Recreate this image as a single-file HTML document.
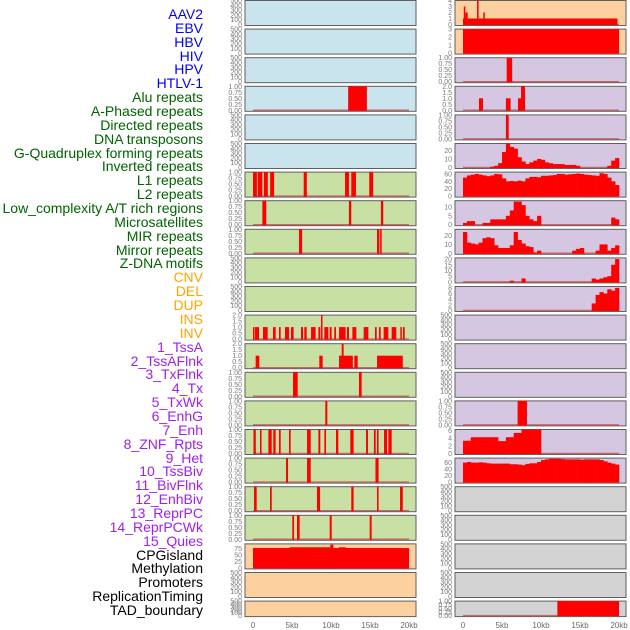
<!DOCTYPE html>
<html><head><meta charset="utf-8">
<style>
html,body{margin:0;padding:0;background:#fff;}
#wrap{position:relative;width:630px;height:630px;overflow:hidden;}
.lbl{position:absolute;right:427px;font-family:"Liberation Sans",sans-serif;font-size:14px;line-height:14px;white-space:nowrap;}
svg text{font-family:"Liberation Sans",sans-serif;}
</style></head>
<body>
<div id="wrap">
<div id="labels"></div>
<svg id="chart" width="630" height="630"></svg>
</div>
<script>
// ---- labels ----
const labelNames = ["AAV2","EBV","HBV","HIV","HPV","HTLV-1","Alu repeats","A-Phased repeats","Directed repeats","DNA transposons","G-Quadruplex forming repeats","Inverted repeats","L1 repeats","L2 repeats","Low_complexity A/T rich regions","Microsatellites","MIR repeats","Mirror repeats","Z-DNA motifs","CNV","DEL","DUP","INS","INV","1_TssA","2_TssAFlnk","3_TxFlnk","4_Tx","5_TxWk","6_EnhG","7_Enh","8_ZNF_Rpts","9_Het","10_TssBiv","11_BivFlnk","12_EnhBiv","13_ReprPC","14_ReprPCWk","15_Quies","CPGisland","Methylation","Promoters","ReplicationTiming","TAD_boundary"];
const labelGroups = [6,13,5,15,5];
const groupColors = ["#0000ff","#006400","#ffa500","#a020f0","#000000"];

// ---- interval data [startKb, endKb, value] ----
const hivSegs = [[12.2,14.6,1]];
const aluSegs = [[0,0.5,1],[0.6,1.2,1],[1.4,1.9,1],[2.2,2.7,1],[6.5,6.9,1],[11.8,12.3,1],[12.6,13.2,1],[14.9,15.4,1]];
const aphasedSegs = [[1.2,1.7,1],[12.3,12.6,1],[16.4,16.7,1]];
const directedSegs = [[5.9,6.3,1],[15.9,16.2,1],[16.3,16.5,1]];
const invertedSegs = [[0,0.13,1],[0.26,0.77,1],[1.28,1.88,1],[2.56,2.91,1],[3.33,3.55,1],[4.1,4.62,1],[4.87,5.21,1],[6.15,6.41,1],[6.58,6.88,1],[7.44,8.03,1],[8.38,8.63,1],[8.72,8.89,2],[9.15,9.66,1],[9.83,10.08,1],[10.42,10.64,1],[11.03,11.88,1],[12.05,12.31,1],[12.74,13.25,1],[14.19,14.79,1],[15.64,15.86,1],[16.15,16.37,1],[16.75,17.35,1],[17.78,18.37,1],[18.89,19.06,1],[19.23,19.45,1]];
const l1Segs = [[0.34,0.81,1],[8.5,8.93,1],[11.03,12.8,1],[11.37,11.62,2],[12.99,13.42,1],[15.9,19.2,1]];
const lowSegs = [[5.13,5.73,1],[13.59,13.93,1]];
const microSegs = [[9.27,9.53,1]];
const mirSegs = [[0.06,0.36,1],[0.9,1.1,1],[1.97,2.4,1],[2.6,2.9,1],[3.33,3.55,1],[4.62,4.83,1],[6.93,7.4,1],[8.38,8.63,1],[9.15,9.36,1],[10.64,10.94,1],[12.47,12.9,1],[14.49,14.74,1],[15.5,15.73,1],[15.9,16.1,1],[16.8,17.18,1],[17.35,17.78,1]];
const mirrorSegs = [[4.23,4.49,1],[6.93,7.4,1],[15.7,16.1,1]];
const zdnaSegs = [[0.13,0.47,1],[2.18,2.4,1],[8.2,8.6,1],[12.6,12.9,1],[15.9,16.1,1],[18.85,19.2,1]];
const cnvSegs = [[5.04,5.26,1],[5.64,5.98,1],[9.83,10.09,1],[14.96,15.21,1]];
const delSegs = [[0,20,77],[4.7,9.9,80],[9.9,10.3,90],[11,11.9,80]];
const insSegs = [[0,19.8,1],[0.1,0.3,3],[0.3,0.6,2],[1.8,2.0,4],[2.6,2.8,2]];
const invSegs = [[0,20,3]];
const tssaSegs = [[5.6,6.3,1]];
const tssaflnkSegs = [[2.05,2.56,1],[5.5,6.1,1],[7.05,7.48,1],[7.44,7.95,2]];
const txflnkSegs = [[5.5,5.86,1]];
const enhgSegs = [[7.0,8.2,1]];
const tadSegs = [[12.1,20,1]];

// ---- binned data (0.5kb bins, 40 bins) ----
const gquadBins = [0,0,0,0,0,0,0,1,2,5,18,28,24,22,12,7,4,6,8,10,9,6,5,4,4,4,3,3,3,2,0,0,0,0,0,0,0,2,8,11];
const txBins = [50,56,58,60,58,56,54,56,60,59,48,40,41,40,42,40,48,52,52,51,55,55,56,57,60,60,58,59,60,61,60,58,57,56,55,62,60,50,40,30];
const txwkBins = [1,2,2,0,0,1,1,3,3,3,3,5,8,13,13,11,5,3,2,5,0,0,0,0,0,0,0,0,0,0,0,0,0,0,0,0,0,0,4,3];
const enhBins = [24,12,11,10,12,17,18,17,9,6,6,6,9,24,15,11,8,7,1,3,0,0,0,0,0,0,0,0,3,5,6,0,0,0,3,10,10,3,6,9];
const znfBins = [0,0,0,0,0,0,0,0,0,0,0,0,1,0,0,3,0,0,0,0,0,0,0,0,0,0,0,0,0,0,0,0,0,3,2,3,4,5,15,20];
const hetBins = [0,0,0,0,0,0,0,0,0,0,0,0,0,0,0,0,0,0,0,0,0,0,0,0,0,0,0,0,0,0,0,0,0,2.5,5.5,6.5,6,7.5,7,8];
const enhbivBins = [3.3,3.3,4.2,4.2,4.2,4.2,4.2,4.2,4.2,3.2,3.2,4.2,4.2,5.3,5.3,6.2,6.2,6.2,6.2,6.2,0,0,0,0,0,0,0,0,0,0,0,0,0,0,0,0,0,0,0,0];
const quiesBins = [60,62,60,60,61,60,58,57,57,57,57,57,55,55,54,52,56,58,58,62,68,70,72,72,72,71,70,70,70,70,69,70,70,70,70,68,64,60,57,54];

// ---- tick label arrays ----
const ticksEmpty = ["0","100","200","300","400","500"];
const ticksUnit = ["0.00","0.25","0.50","0.75","1.00"];
const ticksTwo = ["0.0","0.5","1.0","1.5","2.0"];
const ticksDel = ["0","25","50","75"];
const ticksIns = ["0","1","2","3","4"];
const ticksInv = ["0","1","2","3"];
const ticks10 = ["0","10","20"];
const ticks60 = ["0","20","40","60"];
const ticks5 = ["0","5","10"];
const ticks20by5 = ["0","5","10","15","20"];
const ticks8 = ["0","2","4","6","8"];
const ticks6 = ["0","2","4","6"];
const xTickLabels = ["0","5kb","10kb","15kb","20kb"];
const xTickValues = [0,5,10,15,20];

const BLUE="#c9e4ec",GREEN="#c8e0a4",ORANGE="#fdd09f",PURPLE="#d5c6e2",GRAY="#d3d3d3";
const E={ticks:ticksEmpty,ymax:500};
const panels = [
 // left column
 {c:0,r:0,bg:BLUE,...E,n:"aav2"},{c:0,r:1,bg:BLUE,...E,n:"ebv"},{c:0,r:2,bg:BLUE,...E,n:"hbv"},
 {c:0,r:3,bg:BLUE,ticks:ticksUnit,ymax:1,segs:hivSegs,n:"hiv"},
 {c:0,r:4,bg:BLUE,...E,n:"hpv"},{c:0,r:5,bg:BLUE,...E,n:"htlv-1"},
 {c:0,r:6,bg:GREEN,ticks:ticksUnit,ymax:1,segs:aluSegs,n:"alu-repeats"},
 {c:0,r:7,bg:GREEN,ticks:ticksUnit,ymax:1,segs:aphasedSegs,n:"a-phased-repeats"},
 {c:0,r:8,bg:GREEN,ticks:ticksUnit,ymax:1,segs:directedSegs,n:"directed-repeats"},
 {c:0,r:9,bg:GREEN,...E,n:"dna-transposons"},{c:0,r:10,bg:GREEN,...E,n:"g-quadruplex"},
 {c:0,r:11,bg:GREEN,ticks:ticksTwo,ymax:2,segs:invertedSegs,n:"inverted-repeats"},
 {c:0,r:12,bg:GREEN,ticks:ticksTwo,ymax:2,segs:l1Segs,n:"l1-repeats"},
 {c:0,r:13,bg:GREEN,ticks:ticksUnit,ymax:1,segs:lowSegs,n:"l2-repeats"},
 {c:0,r:14,bg:GREEN,ticks:ticksUnit,ymax:1,segs:microSegs,n:"low-complexity"},
 {c:0,r:15,bg:GREEN,ticks:ticksUnit,ymax:1,segs:mirSegs,n:"microsatellites"},
 {c:0,r:16,bg:GREEN,ticks:ticksUnit,ymax:1,segs:mirrorSegs,n:"mir-repeats"},
 {c:0,r:17,bg:GREEN,ticks:ticksUnit,ymax:1,segs:zdnaSegs,n:"mirror-repeats"},
 {c:0,r:18,bg:GREEN,ticks:ticksUnit,ymax:1,segs:cnvSegs,n:"z-dna-motifs"},
 {c:0,r:19,bg:ORANGE,ticks:ticksDel,ymax:93,segs:delSegs,n:"cnv"},
 {c:0,r:20,bg:ORANGE,...E,n:"del"},{c:0,r:21,bg:ORANGE,...E,n:"dup"},
 // right column
 {c:1,r:0,bg:ORANGE,ticks:ticksIns,ymax:4,segs:insSegs,n:"ins"},
 {c:1,r:1,bg:ORANGE,ticks:ticksInv,ymax:3,segs:invSegs,n:"inv"},
 {c:1,r:2,bg:PURPLE,ticks:ticksUnit,ymax:1,segs:tssaSegs,n:"tssa"},
 {c:1,r:3,bg:PURPLE,ticks:ticksTwo,ymax:2,segs:tssaflnkSegs,n:"tssaflnk"},
 {c:1,r:4,bg:PURPLE,ticks:ticksUnit,ymax:1,segs:txflnkSegs,n:"txflnk"},
 {c:1,r:5,bg:PURPLE,ticks:ticks10,ymax:28,bins:gquadBins,n:"tx"},
 {c:1,r:6,bg:PURPLE,ticks:ticks60,ymax:65,bins:txBins,n:"txwk"},
 {c:1,r:7,bg:PURPLE,ticks:ticks5,ymax:13.5,bins:txwkBins,n:"enhg"},
 {c:1,r:8,bg:PURPLE,ticks:ticks10,ymax:27,bins:enhBins,n:"enh"},
 {c:1,r:9,bg:PURPLE,ticks:ticks20by5,ymax:21,bins:znfBins,n:"znf-rpts"},
 {c:1,r:10,bg:PURPLE,ticks:ticks8,ymax:8.5,bins:hetBins,n:"het"},
 {c:1,r:11,bg:PURPLE,...E,n:"tssbiv"},{c:1,r:12,bg:PURPLE,...E,n:"bivflnk"},{c:1,r:13,bg:PURPLE,...E,n:"enhbiv"},
 {c:1,r:14,bg:PURPLE,ticks:ticksUnit,ymax:1,segs:enhgSegs,n:"reprpc"},
 {c:1,r:15,bg:PURPLE,ticks:ticks6,ymax:6.2,bins:enhbivBins,n:"reprpcwk"},
 {c:1,r:16,bg:PURPLE,ticks:ticks60,ymax:74,bins:quiesBins,n:"quies"},
 {c:1,r:17,bg:GRAY,...E,n:"cpgisland"},{c:1,r:18,bg:GRAY,...E,n:"methylation"},
 {c:1,r:19,bg:GRAY,...E,n:"promoters"},{c:1,r:20,bg:GRAY,...E,n:"replication-timing"},
 {c:1,r:21,bg:GRAY,ticks:ticksUnit,ymax:1,segs:tadSegs,n:"tad-boundary"}
];

// ---- render labels ----
const labDiv=document.getElementById('labels');
let gi=0,cnt=0;
labelNames.forEach((t,i)=>{
  while(cnt>=labelGroups[gi]){cnt-=labelGroups[gi];gi++;}
  cnt++;
  const d=document.createElement('div');
  d.className='lbl';
  d.textContent=t;
  d.style.top=(15+i*13.86-8)+'px';
  d.style.color=groupColors[gi];
  
  
  labDiv.appendChild(d);
});

// ---- render panels ----
const NS="http://www.w3.org/2000/svg";
const svg=document.getElementById('chart');
function mk(tag,attrs,parent){const e=document.createElementNS(NS,tag);for(const k in attrs)e.setAttribute(k,attrs[k]);(parent||svg).appendChild(e);return e;}
const colX=[245,455], PW=171, KB=7.8;
function xScale(c,kb){return colX[c]+8+kb*KB;}
panels.forEach(p=>{
  const top=0.5+p.r*28.6, h=(p.r===21?15.5:25), bot=top+h;
  const g=mk('g',{});
  
  
  const r=mk('rect',{x:colX[p.c],y:top,width:PW,height:h,fill:p.bg,stroke:"#5f5f5f","stroke-width":1},g);
  
  
  const yb=bot-1, yt=top;
  const yS=v=>yb-(v/p.ymax)*(yb-yt);
  // ticks
  p.ticks.forEach(t=>{
    const v=parseFloat(t);
    const tx=mk('text',{x:colX[p.c]-3,y:yS(v)+2.5,"font-size":7,fill:"#7a7a7a","text-anchor":"end"},g);
    tx.textContent=t;
    
    
  });
  if(p.segs||p.bins){
    const bl=mk('line',{x1:xScale(p.c,0),x2:xScale(p.c,20),y1:yb,y2:yb,stroke:"#c05050","stroke-width":1.5,opacity:0.8},g);
    
    
  }
  if(p.segs){
    p.segs.forEach(s=>{
      const x1=xScale(p.c,s[0]), x2=xScale(p.c,s[1]);
      const b=mk('rect',{x:x1,y:yS(s[2]),width:Math.max(1.5,x2-x1),height:yb-yS(s[2])+0.5,fill:"#ff0000"},g);
      
      
    });
  }
  if(p.bins){
    p.bins.forEach((v,k)=>{
      if(v<=0)return;
      const x1=xScale(p.c,k*0.5), x2=xScale(p.c,(k+1)*0.5);
      const b=mk('rect',{x:x1,y:yS(v),width:x2-x1+0.3,height:yb-yS(v)+0.5,fill:"#ff0000"},g);
      
      
    });
  }
});
// x axes
[0,1].forEach(c=>{
  xTickValues.forEach((v,i)=>{
    const t=mk('text',{x:xScale(c,v),y:628,"font-size":8,fill:"#6a6a6a","text-anchor":"middle"});
    t.textContent=xTickLabels[i];
    
    
  });
});
</script>
</body></html>
